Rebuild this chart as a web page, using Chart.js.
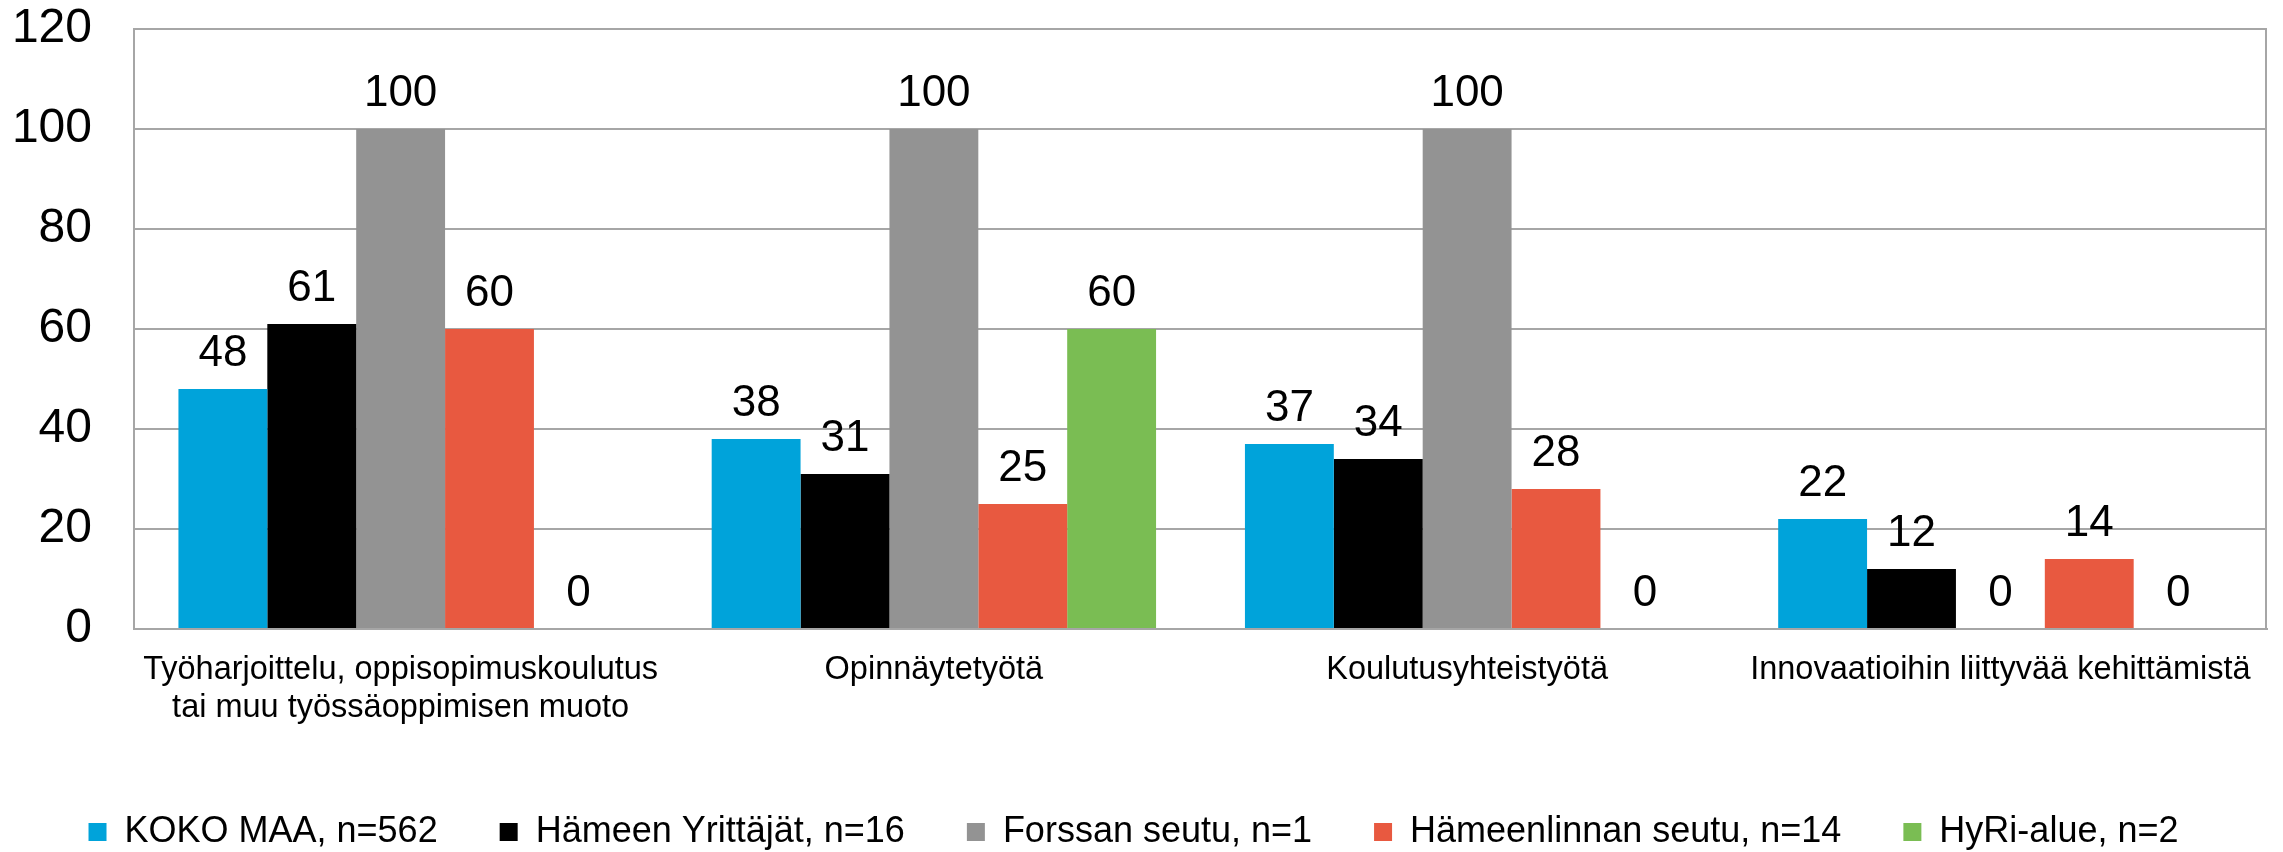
<!DOCTYPE html>
<html>
<head>
<meta charset="utf-8">
<script src="https://cdn.jsdelivr.net/npm/chart.js@4"></script>
<style>
    html, body { margin: 0; padding: 0; background: #fff; }
    #wrap { width: 2283px; height: 852px; position: relative; }
</style>
</head>
<body>
<div id="wrap"><canvas id="chart"></canvas></div>
<script>
const categories = [
    ['Työharjoittelu, oppisopimuskoulutus', 'tai muu työssäoppimisen muoto'],
    'Opinnäytetyötä',
    'Koulutusyhteistyötä',
    'Innovaatioihin liittyvää kehittämistä'
];
const seriesNames = ['KOKO MAA, n=562', 'Hämeen Yrittäjät, n=16', 'Forssan seutu, n=1', 'Hämeenlinnan seutu, n=14', 'HyRi-alue, n=2'];
const kokoMaa = [48, 38, 37, 22];
const hameenYrittajat = [61, 31, 34, 12];
const forssanSeutu = [100, 100, 100, 0];
const hameenlinnanSeutu = [60, 25, 28, 14];
const hyriAlue = [0, 60, 0, 0];
const yTicks = [0, 20, 40, 60, 80, 100, 120];

const colors = ['#00a3da', '#000000', '#939393', '#e85940', '#7abd53'];
const FONT = '"Liberation Sans", Arial, sans-serif';
const gridColor = '#a6a6a6';

// value labels above every bar
const valueLabels = {
    id: 'valueLabels',
    afterDatasetsDraw(chart) {
        const ctx = chart.ctx;
        ctx.save();
        ctx.font = '44px ' + FONT;
        ctx.fillStyle = '#000';
        ctx.textAlign = 'center';
        ctx.textBaseline = 'middle';
        chart.data.datasets.forEach((ds, i) => {
            chart.getDatasetMeta(i).data.forEach((bar, j) => {
                ctx.fillText(String(ds.data[j]), bar.x, bar.y - 35);
            });
        });
        ctx.restore();
    }
};

// right edge of the plot frame
const frameRight = {
    id: 'frameRight',
    beforeDatasetsDraw(chart) {
        const { ctx, chartArea } = chart;
        ctx.save();
        ctx.strokeStyle = gridColor;
        ctx.lineWidth = 2;
        ctx.beginPath();
        ctx.moveTo(chartArea.right - 1, chartArea.top);
        ctx.lineTo(chartArea.right - 1, chartArea.bottom);
        ctx.stroke();
        ctx.restore();
    }
};

// push the legend a bit lower
const legendShift = {
    id: 'legendShift',
    beforeInit(chart) {
        const origFit = chart.legend.fit;
        chart.legend.fit = function fit() {
            origFit.bind(chart.legend)();
            this.height -= 8;
        };
    }
};

const allSeries = [kokoMaa, hameenYrittajat, forssanSeutu, hameenlinnanSeutu, hyriAlue];

new Chart(document.getElementById('chart'), {
    type: 'bar',
    data: {
        labels: categories,
        datasets: allSeries.map((vals, i) => ({
            label: seriesNames[i],
            data: vals,
            backgroundColor: colors[i],
            borderWidth: 0,
            categoryPercentage: 5 / 6,
            barPercentage: 1.0
        }))
    },
    options: {
        responsive: true,
        maintainAspectRatio: false,
        animation: false,
        layout: { padding: { left: 0, right: 16, top: 0, bottom: 0 } },
        scales: {
            x: {
                grid: { display: false },
                border: { display: true, color: gridColor, width: 2 },
                ticks: {
                    color: '#000',
                    font: { family: FONT, size: 32.5, lineHeight: 1.18 },
                    padding: 14,
                    maxRotation: 0,
                    autoSkip: false
                },
                afterFit(scale) { scale.height = 123; }
            },
            y: {
                min: 0,
                max: 120,
                afterBuildTicks(scale) { scale.ticks = yTicks.map(v => ({ value: v })); },
                grid: { color: gridColor, lineWidth: 2, drawTicks: false },
                border: { display: true, color: gridColor, width: 2 },
                ticks: {
                    color: '#000',
                    font: { family: FONT, size: 48 },
                    padding: 42
                },
                afterFit(scale) {
                    scale.width = 134;
                    scale.paddingTop = 29;
                }
            }
        },
        plugins: {
            legend: {
                position: 'bottom',
                labels: {
                    color: '#000',
                    font: { family: FONT, size: 36 },
                    boxWidth: 18,
                    boxHeight: 18,
                    padding: 62
                }
            },
            tooltip: { enabled: false }
        }
    },
    plugins: [valueLabels, frameRight, legendShift]
});
</script>
</body>
</html>
